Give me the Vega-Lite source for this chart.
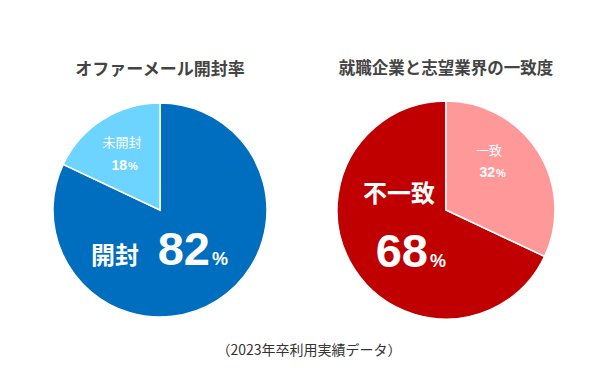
{
  "$schema": "https://vega.github.io/schema/vega-lite/v6.json",
  "background": "white",
  "padding": {"left": 17, "top": 60, "right": 0, "bottom": 0},
  "config": {"view": {"stroke": null}, "concat": {"spacing": 0}},
  "datasets": {
    "offer": [{"label": "開封", "value": 82}, {"label": "未開封", "value": 18}],
    "match": [{"label": "不一致", "value": 68}, {"label": "一致", "value": 32}]
  },
  "title": {
    "text": "（2023年卒利用実績データ）",
    "orient": "bottom",
    "anchor": "middle",
    "font": "Noto Sans CJK JP",
    "fontSize": 14,
    "fontWeight": "normal",
    "color": "#333333",
    "offset": 22,
    "dx": 6
  },
  "spacing": 0,
  "resolve": {"scale": {"color": "independent"}},
  "hconcat": [
    {
      "width": 286,
      "height": 216,
      "data": {"name": "offer"},
      "title": {"text": "オファーメール開封率", "font": "Noto Sans CJK JP", "fontSize": 17, "fontWeight": "bold", "color": "#444444", "offset": 21, "anchor": "middle"},
      "layer": [
        {
          "mark": {"type": "arc", "outerRadius": 107, "stroke": "white", "strokeWidth": 1.5},
          "encoding": {
            "theta": {"field": "value", "type": "quantitative", "stack": true},
            "order": {"field": "value", "type": "quantitative", "sort": "descending"},
            "color": {"field": "label", "type": "nominal", "scale": {"domain": ["開封", "未開封"], "range": ["#006EBF", "#6DD3FF"]}, "legend": null}
          }
        },
        {
          "transform": [{"filter": "datum.label === '未開封'"}],
          "mark": {"type": "text", "font": "Noto Sans CJK JP", "fontSize": 13, "color": "white", "dx": -38, "dy": -67, "baseline": "middle", "align": "center"},
          "encoding": {"text": {"field": "label"}}
        },
        {
          "transform": [{"filter": "datum.label === '未開封'"}],
          "mark": {"type": "text", "font": "Liberation Sans", "fontSize": 14, "fontWeight": "bold", "color": "white", "dx": -33, "dy": -40, "baseline": "alphabetic", "align": "right"},
          "encoding": {"text": {"field": "value"}}
        },
        {
          "transform": [{"filter": "datum.label === '未開封'"}],
          "mark": {"type": "text", "text": "%", "font": "Liberation Sans", "fontSize": 11, "fontWeight": "bold", "color": "white", "dx": -32, "dy": -40, "baseline": "alphabetic", "align": "left"},
          "encoding": {}
        },
        {
          "transform": [{"filter": "datum.label === '開封'"}],
          "mark": {"type": "text", "font": "Noto Sans CJK JP", "fontSize": 24, "fontWeight": "bold", "color": "white", "dx": -45, "dy": 47, "baseline": "middle", "align": "center"},
          "encoding": {"text": {"field": "label"}}
        },
        {
          "transform": [{"filter": "datum.label === '開封'"}],
          "mark": {"type": "text", "font": "Liberation Sans", "fontSize": 47, "fontWeight": "bold", "color": "white", "dx": 50, "dy": 55, "baseline": "alphabetic", "align": "right"},
          "encoding": {"text": {"field": "value"}}
        },
        {
          "transform": [{"filter": "datum.label === '開封'"}],
          "mark": {"type": "text", "text": "%", "font": "Liberation Sans", "fontSize": 18, "fontWeight": "bold", "color": "white", "dx": 52, "dy": 55, "baseline": "alphabetic", "align": "left"},
          "encoding": {}
        }
      ]
    },
    {
      "width": 286,
      "height": 216,
      "data": {"name": "match"},
      "title": {"text": "就職企業と志望業界の一致度", "font": "Noto Sans CJK JP", "fontSize": 16.5, "fontWeight": "bold", "color": "#444444", "offset": 21, "anchor": "middle"},
      "layer": [
        {
          "mark": {"type": "arc", "outerRadius": 109, "stroke": "white", "strokeWidth": 1.5},
          "encoding": {
            "theta": {"field": "value", "type": "quantitative", "stack": true},
            "order": {"field": "value", "type": "quantitative", "sort": "ascending"},
            "color": {"field": "label", "type": "nominal", "scale": {"domain": ["不一致", "一致"], "range": ["#C00000", "#FF9999"]}, "legend": null}
          }
        },
        {
          "transform": [{"filter": "datum.label === '一致'"}],
          "mark": {"type": "text", "font": "Noto Sans CJK JP", "fontSize": 13, "color": "white", "dx": 43, "dy": -59, "baseline": "middle", "align": "center"},
          "encoding": {"text": {"field": "label"}}
        },
        {
          "transform": [{"filter": "datum.label === '一致'"}],
          "mark": {"type": "text", "font": "Liberation Sans", "fontSize": 14, "fontWeight": "bold", "color": "white", "dx": 49, "dy": -33, "baseline": "alphabetic", "align": "right"},
          "encoding": {"text": {"field": "value"}}
        },
        {
          "transform": [{"filter": "datum.label === '一致'"}],
          "mark": {"type": "text", "text": "%", "font": "Liberation Sans", "fontSize": 11, "fontWeight": "bold", "color": "white", "dx": 50, "dy": -33, "baseline": "alphabetic", "align": "left"},
          "encoding": {}
        },
        {
          "transform": [{"filter": "datum.label === '不一致'"}],
          "mark": {"type": "text", "font": "Noto Sans CJK JP", "fontSize": 24, "fontWeight": "bold", "color": "white", "dx": -47, "dy": -15, "baseline": "middle", "align": "center"},
          "encoding": {"text": {"field": "label"}}
        },
        {
          "transform": [{"filter": "datum.label === '不一致'"}],
          "mark": {"type": "text", "font": "Liberation Sans", "fontSize": 47, "fontWeight": "bold", "color": "white", "dx": -18, "dy": 57, "baseline": "alphabetic", "align": "right"},
          "encoding": {"text": {"field": "value"}}
        },
        {
          "transform": [{"filter": "datum.label === '不一致'"}],
          "mark": {"type": "text", "text": "%", "font": "Liberation Sans", "fontSize": 18, "fontWeight": "bold", "color": "white", "dx": -16, "dy": 57, "baseline": "alphabetic", "align": "left"},
          "encoding": {}
        }
      ]
    }
  ]
}
